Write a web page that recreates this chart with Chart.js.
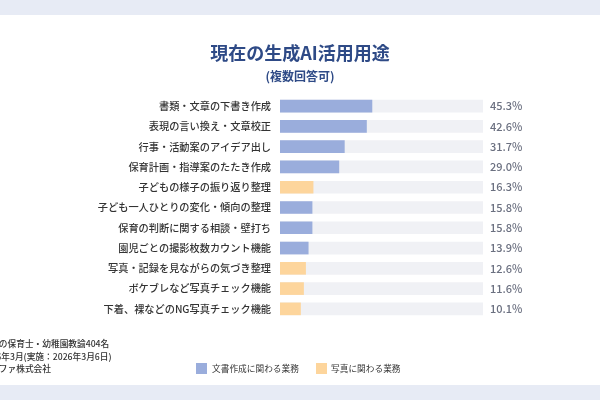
<!DOCTYPE html>
<html>
<head>
<meta charset="utf-8">
<script src="https://cdn.jsdelivr.net/npm/chart.js@4"></script>
<style>
  html, body { margin: 0; padding: 0; background: #fff; }
  #wrap { width: 600px; height: 400px; }
</style>
</head>
<body>
<div id="wrap"><canvas id="chart" width="600" height="400"></canvas></div>
<script>
const categories = [
  '書類・文章の下書き作成',
  '表現の言い換え・文章校正',
  '行事・活動案のアイデア出し',
  '保育計画・指導案のたたき作成',
  '子どもの様子の振り返り整理',
  '子ども一人ひとりの変化・傾向の整理',
  '保育の判断に関する相談・壁打ち',
  '園児ごとの撮影枚数カウント機能',
  '写真・記録を見ながらの気づき整理',
  'ボケブレなど写真チェック機能',
  '下着、裸などのNG写真チェック機能'
];
const values = [45.3, 42.6, 31.7, 29.0, 16.3, 15.8, 15.8, 13.9, 12.6, 11.6, 10.1];
const groups = ['doc', 'doc', 'doc', 'doc', 'photo', 'doc', 'doc', 'doc', 'photo', 'photo', 'photo'];
const trackValues = categories.map(() => 100);
const legendLabels = ['文書作成に関わる業務', '写真に関わる業務'];
const footnotes = [
  '調査対象：全国の保育士・幼稚園教諭404名',
  '調査期間：2026年3月(実施：2026年3月6日)',
  '調査主体：ユニファ株式会社'
];

const FONT = '"Noto Sans CJK JP", "Noto Sans", sans-serif';
const BLUE = '#9aaddc';
const ORANGE = '#fdd59c';
const colors = groups.map(g => g === 'photo' ? ORANGE : BLUE);

const decor = {
  id: 'decor',
  beforeDraw(chart) {
    const ctx = chart.ctx;
    ctx.save();
    ctx.fillStyle = '#e7ebf5';
    ctx.fillRect(0, 0, 600, 15);
    ctx.fillRect(0, 385, 600, 15);
    ctx.restore();
  },
  afterDraw(chart) {
    const ctx = chart.ctx;
    ctx.save();
    // title
    ctx.fillStyle = '#2e4a86';
    ctx.textAlign = 'center';
    ctx.textBaseline = 'middle';
    ctx.font = 'bold 18px ' + FONT;
    ctx.fillText('現在の生成AI活用用途', 300, 53);
    ctx.font = 'bold 12px ' + FONT;
    ctx.fillText('(複数回答可)', 300, 76);

    // value labels
    const meta = chart.getDatasetMeta(0);
    const track = chart.getDatasetMeta(1);
    ctx.font = '500 11px ' + FONT;
    ctx.fillStyle = '#6b7080';
    ctx.textAlign = 'left';
    meta.data.forEach((bar, i) => {
      ctx.fillText(values[i].toFixed(1) + '%', track.data[i].x + 7, bar.y);
    });

    // footnotes
    ctx.font = '500 8.7px ' + FONT;
    ctx.fillStyle = '#333';
    footnotes.forEach((t, i) => ctx.fillText(t, -62, 344 + i * 12.5));

    // legend
    ctx.font = '8.7px ' + FONT;
    ctx.fillStyle = BLUE;
    ctx.fillRect(196, 363, 11, 11);
    ctx.fillStyle = ORANGE;
    ctx.fillRect(316, 363, 11, 11);
    ctx.fillStyle = '#333';
    ctx.fillText(legendLabels[0], 212, 369);
    ctx.fillText(legendLabels[1], 331, 369);
    ctx.restore();
  }
};

new Chart(document.getElementById('chart'), {
  type: 'bar',
  data: {
    labels: categories,
    datasets: [
      {
        data: values,
        backgroundColor: colors,
        barThickness: 12,
        grouped: false
      },
      {
        data: trackValues,
        backgroundColor: '#f0f1f5',
        barThickness: 12,
        grouped: false
      }
    ]
  },
  options: {
    indexAxis: 'y',
    responsive: false,
    animation: false,
    layout: { padding: { top: 96, bottom: 81, left: 0, right: 117 } },
    plugins: {
      legend: { display: false },
      tooltip: { enabled: false }
    },
    scales: {
      x: { display: false, min: 0, max: 100 },
      y: {
        afterFit(scale) { scale.width = 280; },
        grid: { display: false, drawTicks: false },
        border: { display: false },
        ticks: {
          padding: 9,
          color: '#333',
          font: { family: FONT, size: 10.2, weight: '500' }
        }
      }
    }
  },
  plugins: [decor]
});
</script>
</body>
</html>
